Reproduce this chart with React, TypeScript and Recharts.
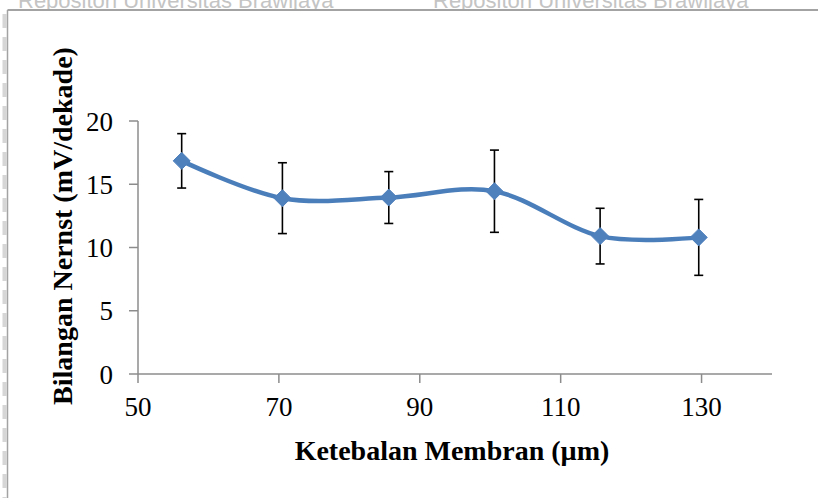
import React from 'react';
import { LineChart, Line, XAxis, YAxis, ErrorBar } from 'recharts';

const thickness = [56.2, 70.5, 85.6, 100.6, 115.6, 129.6];
const nernst = [16.85, 13.9, 13.95, 14.45, 10.9, 10.8];
const stdev = [2.15, 2.8, 2.05, 3.25, 2.2, 3.0];
const xTicks = [50, 70, 90, 110, 130];
const yTicks = [0, 5, 10, 15, 20];

const data = thickness.map((x, i) => ({ x, y: nernst[i], err: stdev[i] }));

function smoothCurve(context: any) {
  const k = 1 / 6;
  let x0 = NaN, y0 = NaN, x1 = NaN, y1 = NaN, x2 = NaN, y2 = NaN;
  let pt = 0;
  let line: number = NaN;
  const bez = (x: number, y: number) => {
    context.bezierCurveTo(
      x1 + k * (x2 - x0), y1 + k * (y2 - y0),
      x2 + k * (x1 - x), y2 + k * (y1 - y),
      x2, y2
    );
  };
  return {
    areaStart() { line = 0; },
    areaEnd() { line = NaN; },
    lineStart() { x0 = x1 = x2 = y0 = y1 = y2 = NaN; pt = 0; },
    lineEnd() {
      if (pt === 2) context.lineTo(x2, y2);
      else if (pt === 3) bez(x1, y1);
      if (line || (line !== 0 && pt === 1)) context.closePath();
      line = 1 - line;
    },
    point(xx: number, yy: number) {
      const x = +xx, y = +yy;
      if (pt === 0) { pt = 1; if (line) context.lineTo(x, y); else context.moveTo(x, y); }
      else if (pt === 1) { pt = 2; x1 = x; y1 = y; }
      else { pt = 3; bez(x, y); }
      x0 = x1; x1 = x2; x2 = x;
      y0 = y1; y1 = y2; y2 = y;
    },
  };
}

const Diamond = (props: any) => {
  const { cx, cy, index } = props;
  if (cx == null || cy == null) return <g key={`d${index}`} />;
  const r = 8.5;
  return (
    <polygon
      key={`d${index}`}
      points={`${cx},${cy - r} ${cx + r},${cy} ${cx},${cy + r} ${cx - r},${cy}`}
      fill="#4F81BD"
      stroke="#4F81BD"
      strokeWidth={1}
    />
  );
};

const font = '"Liberation Serif", "Times New Roman", serif';

export default function App() {
  return (
    <div style={{ position: 'absolute', left: 0, top: 0, width: 818, height: 498, background: '#fff', overflow: 'hidden' }}>
      <div style={{ position: 'absolute', left: 0, top: 0, width: 818, height: 9, overflow: 'hidden' }}>
        <svg width={818} height={9} style={{ display: 'block' }}>
          <text x={18} y={8} fontFamily='"Liberation Sans", Arial, sans-serif' fontSize={22} fill="#c4c4c4">Repositori Universitas Brawijaya</text>
          <text x={433} y={8} fontFamily='"Liberation Sans", Arial, sans-serif' fontSize={22} fill="#c4c4c4">Repositori Universitas Brawijaya</text>
        </svg>
      </div>
      <svg width={818} height={498} style={{ position: 'absolute', left: 0, top: 0 }}>
        <line x1={4.5} y1={14} x2={4.5} y2={498} stroke="#d6d6d6" strokeWidth={4} strokeDasharray="14 9" />
        <line x1={7.5} y1={10} x2={818} y2={10} stroke="#a3a3a3" strokeWidth={2} />
        <line x1={7.5} y1={10} x2={7.5} y2={498} stroke="#a3a3a3" strokeWidth={1.5} />
      </svg>
      <div style={{ position: 'absolute', left: 0, top: 0 }}>
        <LineChart width={818} height={498} data={data} margin={{ top: 121, right: 46, bottom: 0, left: 0 }}>
          <XAxis
            type="number"
            dataKey="x"
            domain={[50, 140]}
            ticks={xTicks}
            height={124}
            axisLine={{ stroke: '#8c8c8c', strokeWidth: 1.5 }}
            tickLine={{ stroke: '#8c8c8c', strokeWidth: 1.5 }}
            tickSize={9}
            tickMargin={14}
            tick={{ fill: '#000', fontFamily: font, fontSize: 27 }}
            allowDataOverflow
          />
          <YAxis
            type="number"
            domain={[0, 20]}
            ticks={yTicks}
            width={138}
            axisLine={{ stroke: '#8c8c8c', strokeWidth: 1.5 }}
            tickLine={{ stroke: '#8c8c8c', strokeWidth: 1.5 }}
            tickSize={9}
            tickMargin={16}
            tick={{ fill: '#000', fontFamily: font, fontSize: 27 }}
          />
          <Line
            dataKey="y"
            type={smoothCurve as any}
            stroke="#4A7EBB"
            strokeWidth={4.5}
            dot={Diamond}
            activeDot={false}
            isAnimationActive={false}
          >
            <ErrorBar dataKey="err" direction="y" width={4.5} stroke="#000" strokeWidth={1.6} isAnimationActive={false} />
          </Line>
        </LineChart>
      </div>
      <svg width={818} height={498} style={{ position: 'absolute', left: 0, top: 0, pointerEvents: 'none' }}>
        <text x={452} y={460} textAnchor="middle" fontFamily={font} fontWeight="bold" fontSize={28} fill="#000">Ketebalan Membran (µm)</text>
        <text transform="translate(72,226) rotate(-90)" textAnchor="middle" fontFamily={font} fontWeight="bold" fontSize={28} fill="#000">Bilangan Nernst (mV/dekade)</text>
      </svg>
    </div>
  );
}
